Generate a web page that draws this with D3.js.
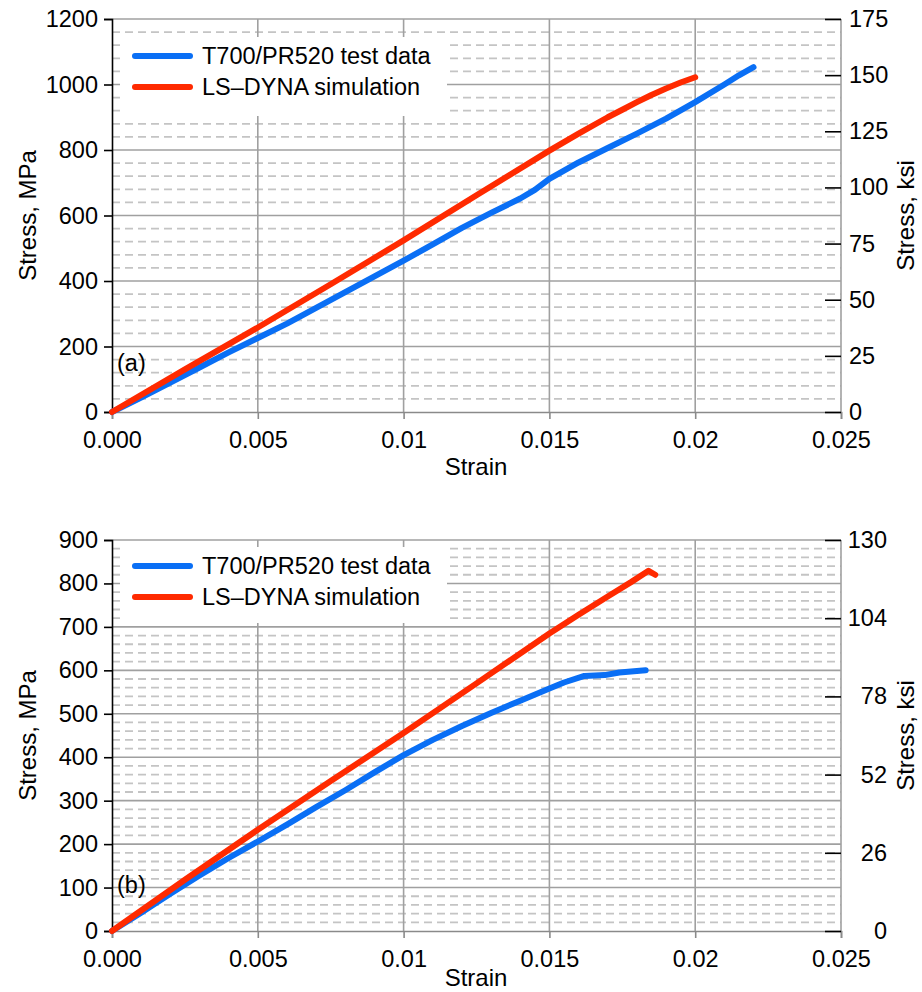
<!DOCTYPE html>
<html>
<head>
<meta charset="utf-8">
<script src="https://cdn.jsdelivr.net/npm/d3@7/dist/d3.min.js"></script>
<style>
  html, body { margin: 0; padding: 0; background: #fff; }
  svg text { font-family: "Liberation Sans", Arial, sans-serif; fill: #000; }
</style>
</head>
<body>
<svg id="chart" width="922" height="992"></svg>
<script>
// ---------- DATA ----------
const seriesNames = ["T700/PR520 test data", "LS\u2013DYNA simulation"];
const strainTicks = [0, 0.005, 0.01, 0.015, 0.02, 0.025];
const strainTickLabels = ["0.000", "0.005", "0.01", "0.015", "0.02", "0.025"];

// Panel (a)
const aMpaTicks = [0, 200, 400, 600, 800, 1000, 1200];
const aKsiTicks = [0, 25, 50, 75, 100, 125, 150, 175];
const aTestStrain = [0, 0.001, 0.002, 0.003, 0.004, 0.005, 0.006, 0.007, 0.008, 0.009, 0.01, 0.011, 0.012, 0.013, 0.014, 0.0145, 0.015, 0.016, 0.017, 0.018, 0.019, 0.02, 0.021, 0.0215, 0.022];
const aTestStress = [0, 44, 90, 136, 182, 226, 270, 318, 366, 414, 462, 512, 562, 608, 652, 678, 712, 762, 806, 850, 896, 946, 1000, 1028, 1053];
const aSimStrain = [0, 0.0025, 0.005, 0.0075, 0.01, 0.0125, 0.015, 0.016, 0.017, 0.0175, 0.018, 0.0185, 0.019, 0.0195, 0.02];
const aSimStress = [0, 130, 258, 390, 524, 662, 798, 850, 900, 923, 946, 968, 988, 1006, 1022];

// Panel (b)
const bMpaTicks = [0, 100, 200, 300, 400, 500, 600, 700, 800, 900];
const bKsiTicks = [0, 26, 52, 78, 104, 130];
const bTestStrain = [0, 0.001, 0.002, 0.003, 0.004, 0.005, 0.006, 0.007, 0.008, 0.009, 0.01, 0.011, 0.012, 0.013, 0.014, 0.015, 0.0155, 0.0162, 0.0169, 0.0174, 0.0183];
const bTestStress = [0, 42, 86, 128, 168, 206, 245, 285, 324, 365, 405, 440, 472, 502, 530, 558, 572, 587, 589, 595, 600];
const bSimStrain = [0, 0.0025, 0.005, 0.0075, 0.01, 0.0125, 0.015, 0.016, 0.017, 0.0178, 0.0184, 0.01863];
const bSimStress = [0, 118, 233, 345, 456, 570, 685, 728, 770, 803, 829, 820];

// ---------- DRAW ----------
const svg = d3.select("#chart");
const FONT = 23.5;
const blue = "#0a6ff5", red = "#ff2a00";
const LW = 6;

function panel(cfg) {
  const x = d3.scaleLinear().domain([0, 0.025]).range([112, 841]);
  const y = d3.scaleLinear().domain([0, cfg.mpaMax]).range([cfg.y0, cfg.y1]);
  const yr = d3.scaleLinear().domain([0, cfg.ksiMax]).range([cfg.y0, cfg.y1]);
  const g = svg.append("g");

  // minor dashed gridlines
  const minors = d3.range(0, cfg.mpaMax + 0.001, cfg.minorStep).filter(v => v % cfg.majorStep !== 0);
  g.selectAll("line.minor").data(minors).join("line")
    .attr("x1", x(0)).attr("x2", x(0.025))
    .attr("y1", d => y(d)).attr("y2", d => y(d))
    .attr("stroke", "#c4c4c4").attr("stroke-width", 1.8)
    .attr("stroke-dasharray", "8,5");
  // major horizontal
  g.selectAll("line.majh").data(cfg.mpaTicks.filter(v => v > 0)).join("line")
    .attr("x1", x(0)).attr("x2", x(0.025))
    .attr("y1", d => y(d)).attr("y2", d => y(d))
    .attr("stroke", "#a0a0a0").attr("stroke-width", 1.6);
  // major vertical
  g.selectAll("line.majv").data(strainTicks.filter(v => v > 0)).join("line")
    .attr("x1", d => x(d)).attr("x2", d => x(d))
    .attr("y1", y(0)).attr("y2", y(cfg.mpaMax))
    .attr("stroke", "#a0a0a0").attr("stroke-width", 1.6);

  // legend background
  g.append("rect").attr("x", 120).attr("y", cfg.legY - 19)
    .attr("width", 327).attr("height", cfg.legH).attr("fill", "#fff");

  // bottom axis
  const xa = g.append("g").attr("transform", `translate(0,${y(0)})`)
    .call(d3.axisBottom(x).tickValues(strainTicks).tickFormat((d, i) => strainTickLabels[i]).tickSize(7).tickPadding(12));
  xa.select(".domain").attr("stroke", "#8a8a8a").attr("stroke-width", 1.6);
  xa.selectAll(".tick line").attr("stroke", "#8a8a8a").attr("stroke-width", 1.6);
  xa.selectAll("text").attr("font-size", FONT).attr("fill", "#000");

  // left axis
  const ya = g.append("g").attr("transform", `translate(${x(0)},0)`)
    .call(d3.axisLeft(y).tickValues(cfg.mpaTicks).tickFormat(d3.format("d")).tickSize(8).tickPadding(6));
  ya.select(".domain").attr("stroke", "#000").attr("stroke-width", 1.6);
  ya.selectAll(".tick line").attr("stroke", "#000").attr("stroke-width", 1.6);
  ya.selectAll("text").attr("font-size", FONT).attr("fill", "#000");

  // right axis (ticks inward)
  const ra = g.append("g").attr("transform", `translate(${x(0.025)},0)`)
    .call(d3.axisRight(yr).tickValues(cfg.ksiTicks).tickFormat(d3.format("d")).tickSizeInner(-16).tickSizeOuter(0).tickPadding(8));
  ra.select(".domain").remove();
  ra.selectAll(".tick line").attr("stroke", "#000").attr("stroke-width", 1.6);
  ra.selectAll("text").attr("font-size", FONT).attr("fill", "#000");
  if (cfg.rightAnchorEnd) ra.selectAll("text").attr("text-anchor", "end").attr("x", 46);

  // series lines
  const line = d3.line().x(d => x(d[0])).y(d => y(d[1]));
  const test = d3.zip(cfg.testStrain, cfg.testStress);
  const sim = d3.zip(cfg.simStrain, cfg.simStress);
  g.append("path").datum(test).attr("d", line).attr("fill", "none")
    .attr("stroke", blue).attr("stroke-width", LW).attr("stroke-linejoin", "round").attr("stroke-linecap", "round");
  g.append("path").datum(sim).attr("d", line).attr("fill", "none")
    .attr("stroke", red).attr("stroke-width", LW).attr("stroke-linejoin", "round").attr("stroke-linecap", "round");

  // legend
  const lg = g.append("g");
  [[blue, seriesNames[0], cfg.legY], [red, seriesNames[1], cfg.legY + cfg.legGap]].forEach(([c, t, ly]) => {
    lg.append("line").attr("x1", 135).attr("x2", 190).attr("y1", ly).attr("y2", ly)
      .attr("stroke", c).attr("stroke-width", LW).attr("stroke-linecap", "round");
    lg.append("text").attr("x", 202).attr("y", ly).attr("dy", "0.35em")
      .attr("font-size", FONT).text(t);
  });

  // panel label
  g.append("text").attr("x", 117).attr("y", cfg.labY).attr("dy", "0.35em")
    .attr("font-size", FONT).text(cfg.label);

  // axis titles
  const mid = (cfg.y0 + cfg.y1) / 2;
  g.append("text").attr("transform", `translate(28,${mid}) rotate(-90)`)
    .attr("text-anchor", "middle").attr("dy", "0.35em").attr("font-size", 24).text("Stress, MPa");
  g.append("text").attr("transform", `translate(906,${mid}) rotate(-90)`)
    .attr("text-anchor", "middle").attr("dy", "0.35em").attr("font-size", 24).text("Stress, ksi");
  g.append("text").attr("x", 476).attr("y", cfg.strainY).attr("dy", "0.35em")
    .attr("text-anchor", "middle").attr("font-size", 24).text("Strain");
}

panel({
  y0: 412, y1: 19, mpaMax: 1200, ksiMax: 175, minorStep: 40, majorStep: 200,
  mpaTicks: aMpaTicks, ksiTicks: aKsiTicks,
  testStrain: aTestStrain, testStress: aTestStress, simStrain: aSimStrain, simStress: aSimStress,
  legY: 56, legGap: 31, legH: 79, labY: 363, label: "(a)", strainY: 467, rightAnchorEnd: false
});
panel({
  y0: 931, y1: 540, mpaMax: 900, ksiMax: 130, minorStep: 20, majorStep: 100,
  mpaTicks: bMpaTicks, ksiTicks: bKsiTicks,
  testStrain: bTestStrain, testStress: bTestStress, simStrain: bSimStrain, simStress: bSimStress,
  legY: 566, legGap: 31, legH: 76, labY: 885, label: "(b)", strainY: 978, rightAnchorEnd: true
});
</script>
</body>
</html>
